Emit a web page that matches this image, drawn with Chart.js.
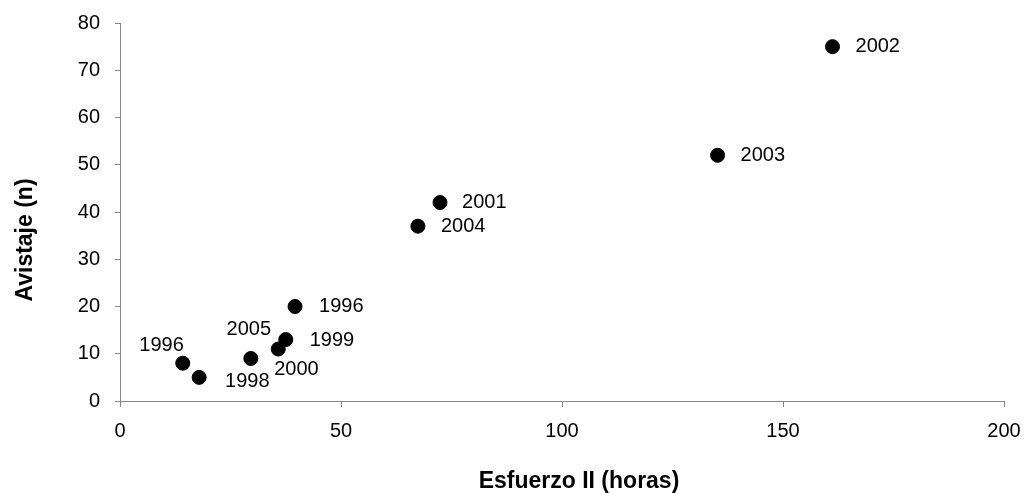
<!DOCTYPE html>
<html lang="es">

<head>
    <meta charset="UTF-8">
    <title>Avistaje vs Esfuerzo</title>
    <style>
        body {
            margin: 0;
            background: #fff;
        }

        .blocker {
            width: 1032px;
            height: 493px;
        }
    </style>
    <script src="https://cdn.jsdelivr.net/npm/chart.js"></script>
</head>

<body>
    <div class="blocker">
        <canvas id="myChart"></canvas>
    </div>

    <script>
        // values
        const years = ['1996', '1996', '1998', '1999', '2000', '2001', '2002', '2003', '2004', '2005'];
        const esfuerzo = [14.2, 39.6, 17.9, 37.5, 35.8, 72.4, 161.2, 135.2, 67.4, 29.6];
        const avistaje = [8, 20, 5, 13, 11, 42, 75, 52, 37, 9];
        const xTicks = [0, 50, 100, 150, 200];
        const yTicks = [0, 10, 20, 30, 40, 50, 60, 70, 80];

        // where each year label sits relative to its point
        const labelPlace = [
            { align: 'right', dx: 1, dy: -18 },
            { align: 'left', dx: 24, dy: 0 },
            { align: 'left', dx: 26, dy: 4 },
            { align: 'left', dx: 24, dy: 1 },
            { align: 'left', dx: -4, dy: 20 },
            { align: 'left', dx: 22, dy: 0 },
            { align: 'left', dx: 23, dy: 0 },
            { align: 'left', dx: 23, dy: 0 },
            { align: 'left', dx: 23, dy: 0 },
            { align: 'center', dx: -2, dy: -29 }
        ];

        const FONT = '"Liberation Sans", Arial, sans-serif';
        const ctx = document.getElementById('myChart');

        const labelsPlugin = {
            id: 'yearLabels',
            afterDatasetsDraw(chart) {
                const c = chart.ctx;
                const meta = chart.getDatasetMeta(0);
                c.save();
                c.font = '20px ' + FONT;
                c.fillStyle = '#000';
                c.textBaseline = 'middle';
                meta.data.forEach((pt, i) => {
                    const p = labelPlace[i];
                    c.textAlign = p.align;
                    c.fillText(years[i], pt.x + p.dx, pt.y + p.dy);
                });
                c.restore();
            },
            afterDraw(chart) {
                const c = chart.ctx;
                c.save();
                c.font = 'bold 23px ' + FONT;
                c.fillStyle = '#000';
                c.textAlign = 'center';
                c.textBaseline = 'alphabetic';
                c.fillText('Esfuerzo II (horas)', 579, 488);
                c.translate(32, 240);
                c.rotate(-Math.PI / 2);
                c.fillText('Avistaje (n)', 0, 0);
                c.restore();
            }
        };

        new Chart(ctx, {
            type: 'scatter',
            data: {
                datasets: [{
                    label: 'Avistaje',
                    data: esfuerzo.map((x, i) => ({ x: x, y: avistaje[i] })),
                    backgroundColor: '#000',
                    borderColor: '#000',
                    pointRadius: 7,
                    pointHoverRadius: 7
                }]
            },
            options: {
                responsive: true,
                maintainAspectRatio: false,
                animation: false,
                layout: {
                    padding: { left: 0, right: 28, top: 23, bottom: 0 }
                },
                plugins: {
                    legend: { display: false },
                    tooltip: { enabled: false }
                },
                scales: {
                    x: {
                        type: 'linear',
                        min: 0,
                        max: 200,
                        afterBuildTicks: s => { s.ticks = xTicks.map(v => ({ value: v })); },
                        afterFit: s => { s.height = 92; s.paddingRight = 0; s.paddingLeft = 0; },
                        grid: { drawOnChartArea: false, drawTicks: true, tickLength: 6, color: '#868686' },
                        border: { display: true, color: '#868686', width: 1 },
                        ticks: { color: '#000', padding: 12, font: { size: 20, family: FONT } }
                    },
                    y: {
                        type: 'linear',
                        min: 0,
                        max: 80,
                        afterBuildTicks: s => { s.ticks = yTicks.map(v => ({ value: v })); },
                        afterFit: s => { s.width = 120; s.paddingTop = 0; s.paddingBottom = 0; },
                        grid: { drawOnChartArea: false, drawTicks: true, tickLength: 5, color: '#868686' },
                        border: { display: true, color: '#868686', width: 1 },
                        ticks: { color: '#000', padding: 15, font: { size: 20, family: FONT } }
                    }
                }
            },
            plugins: [labelsPlugin]
        });
    </script>
</body>

</html>
